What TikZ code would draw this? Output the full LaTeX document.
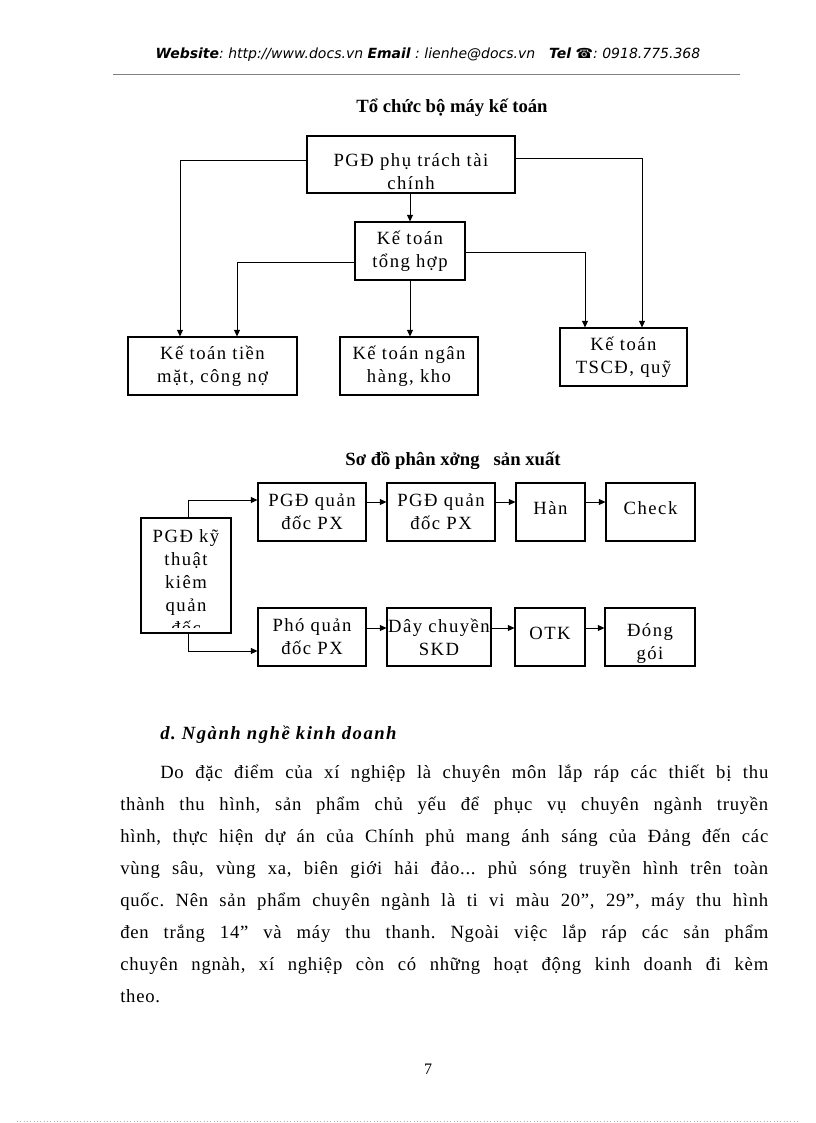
\documentclass[tikz,border=0pt]{standalone}
\usepackage{fontspec}
\setmainfont{Liberation Serif}
\newfontfamily\hdrfont{DejaVu Sans}
\usetikzlibrary{arrows.meta,fit}
\newcommand\jline[2]{\makebox[#1][s]{#2}}
\begin{document}
\frenchspacing
\begin{tikzpicture}[x=0.75pt,y=-0.75pt,
  box/.style={draw, line width=0.8pt, inner sep=0pt},
  lbl/.style={align=center, inner sep=0pt, font=\fontsize{14}{17.25}\selectfont\addfontfeature{LetterSpace=8}},
  arr/.style={-{Triangle[length=5pt,width=4.5pt]}, line width=0.6pt},
  ttl/.style={font=\bfseries\fontsize{14}{16}\selectfont},
  body/.style={anchor=base west, inner sep=0pt, font=\fontsize{14}{16}\selectfont\addfontfeature{LetterSpace=4}},
]
\useasboundingbox (0,0) rectangle (816,1123);

% header
\node[anchor=base, inner sep=0pt, font=\hdrfont\fontsize{10.5}{12}\selectfont\itshape] (hdr) at (428,59)
  {\textbf{Website}: http://www.docs.vn \textbf{Email} : lienhe@docs.vn\quad\textbf{Tel} ☎: 0918.775.368};
\draw[gray, line width=0.5pt] (113,74) -- (740,74);

% diagram 1
\node[ttl] (t1title) at (452,108) {Tổ chức bộ máy kế toán};
\node[box, fit={(307,136)(515,193)}] (pgd) {};
\node[lbl] at ([yshift=-5pt]pgd.center) {PGĐ phụ trách tài\\chính};
\node[box, fit={(355,222)(465,280)}] (kth) {};
\node[lbl] at (kth.center) {Kế toán\\tổng hợp};
\node[box, fit={(128,337)(297,395)}] (ktt) {};
\node[lbl] at (ktt.center) {Kế toán tiền\\mặt, công nợ};
\node[box, fit={(340,337)(478,395)}] (ktn) {};
\node[lbl] at (ktn.center) {Kế toán ngân\\hàng, kho};
\node[box, fit={(560,328)(687,386)}] (kts) {};
\node[lbl] at (kts.center) {Kế toán\\TSCĐ, quỹ};

\draw[arr] (pgd.west |- 0,160) -| (ktt.north -| 180,0);
\draw[arr] (pgd.east |- 0,158) -| (kts.north -| 642,0);
\draw[arr] (pgd.south -| kth.north) -- (kth.north);
\draw[arr] (kth.west |- 0,262) -| (ktt.north -| 237,0);
\draw[arr] (kth.south) -- (ktn.north -| kth.south);
\draw[arr] (kth.east |- 0,252) -| (kts.north -| 585,0);

% diagram 2
\node[ttl] (t2title) at (453,461) {Sơ đồ phân xởng\ \ \ sản xuất};
\node[box, fit={(141,518)(231,633)}] (pk) {};
\begin{scope}
\clip (142,519) rectangle (230,627);
\node[lbl, font=\fontsize{14}{17.25}\selectfont\addfontfeature{LetterSpace=8}] at (186,582) {PGĐ kỹ\\thuật\\kiêm\\quản\\đốc};
\end{scope}
\node[box, fit={(258,483)(366,541)}] (a1) {};
\node[lbl] at (a1.center) {PGĐ quản\\đốc PX};
\node[box, fit={(387,483)(495,541)}] (a2) {};
\node[lbl] at (a2.center) {PGĐ quản\\đốc PX};
\node[box, fit={(516,483)(585,541)}] (a3) {};
\node[lbl] at ([yshift=3pt]a3.center) {Hàn};
\node[box, fit={(606,483)(695,541)}] (a4) {};
\node[lbl] at ([yshift=3pt]a4.center) {Check};
\node[box, fit={(258,608)(366,666)}] (b1) {};
\node[lbl] at (b1.center) {Phó quản\\đốc PX};
\node[box, fit={(387,608)(491,666)}] (b2) {};
\node[lbl] at (b2.center) {Dây chuyền\\SKD};
\node[box, fit={(515,608)(585,666)}] (b3) {};
\node[lbl] at ([yshift=3pt]b3.center) {OTK};
\node[box, fit={(605,608)(695,666)}] (b4) {};
\node[lbl] at ([yshift=-5pt]b4.center) {Đóng\\gói};

\draw[arr] (pk.north -| 188,0) |- (a1.west |- 0,500);
\draw[arr] (pk.south -| 188,0) |- (b1.west |- 0,651);
\draw[arr] (a1.east |- 0,502) -- (a2.west |- 0,502);
\draw[arr] (a2.east |- 0,502) -- (a3.west |- 0,502);
\draw[arr] (a3.east |- 0,502) -- (a4.west |- 0,502);
\draw[arr] (b1.east |- 0,628) -- (b2.west |- 0,628);
\draw[arr] (b2.east |- 0,628) -- (b3.west |- 0,628);
\draw[arr] (b3.east |- 0,628) -- (b4.west |- 0,628);

% text
\node[anchor=base west, inner sep=0pt, font=\bfseries\itshape\fontsize{14}{16}\selectfont\addfontfeature{LetterSpace=8}] (sec) at (160,739) {d. Ngành nghề kinh doanh};
\node[body] (l1) at (160,778) {\jline{456pt}{Do đặc điểm của xí nghiệp là chuyên môn lắp ráp các thiết bị thu}};
\node[body] (l2) at (120,810) {\jline{486pt}{thành thu hình, sản phẩm chủ yếu để phục vụ chuyên ngành truyền}};
\node[body] (l3) at (120,842) {\jline{486pt}{hình, thực hiện dự án của Chính phủ mang ánh sáng của Đảng đến các}};
\node[body] (l4) at (120,874) {\jline{486pt}{vùng sâu, vùng xa, biên giới hải đảo... phủ sóng truyền hình trên toàn}};
\node[body] (l5) at (120,906) {\jline{486pt}{quốc. Nên sản phẩm chuyên ngành là ti vi màu 20”, 29”, máy thu hình}};
\node[body] (l6) at (120,938) {\jline{486pt}{đen trắng 14” và máy thu thanh. Ngoài việc lắp ráp các sản phẩm}};
\node[body] (l7) at (120,970) {\jline{486pt}{chuyên ngnàh, xí nghiệp còn có những hoạt động kinh doanh đi kèm}};
\node[body] (l8) at (120,1002) {theo.};

\node[anchor=base, inner sep=0pt, font=\fontsize{12}{14}\selectfont] (pg) at (428,1074) {7};
\draw[gray!60, dotted, line width=0.5pt] (17,1121) -- (800,1121);
\end{tikzpicture}
\end{document}
